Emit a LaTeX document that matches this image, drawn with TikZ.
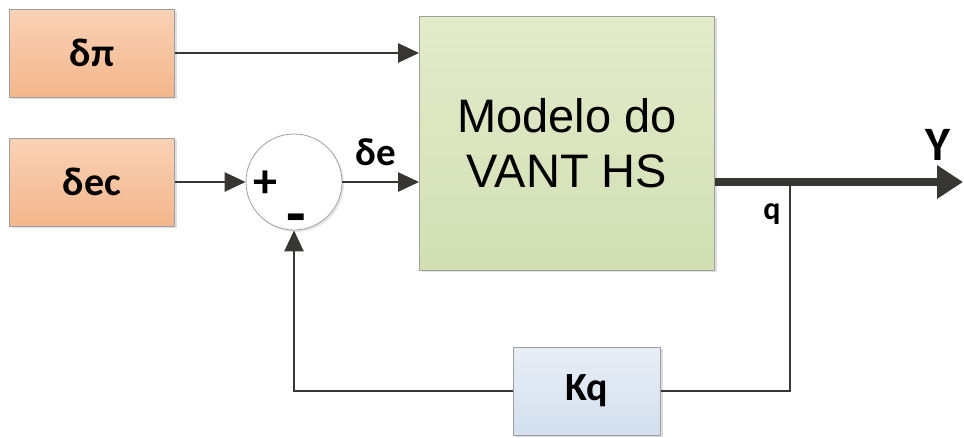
\documentclass[tikz,border=0pt]{standalone}
\usepackage{fontspec}
\setmainfont{Carlito}
\newfontfamily\arialfont{Liberation Sans}
\usetikzlibrary{arrows.meta,positioning,shadows}
\definecolor{linec}{HTML}{383634}
\definecolor{orangetop}{HTML}{F9D2B6}
\definecolor{orangebot}{HTML}{F3B68C}
\definecolor{greentop}{HTML}{E3EBCB}
\definecolor{greenbot}{HTML}{D2DFB3}
\definecolor{bluetop}{HTML}{E8EEF6}
\definecolor{bluebot}{HTML}{D3DFEE}

\begin{document}
\begin{tikzpicture}[x=1pt,y=-1pt,
  font=\bfseries,
  block/.style={draw=gray!75,line width=0.8pt,align=center,
    drop shadow={opacity=0.25,shadow xshift=2pt,shadow yshift=-2pt}},
  input/.style={block,top color=orangetop,bottom color=orangebot,minimum width=165pt,minimum height=88pt,font=\bfseries\fontsize{40}{42}\selectfont},
  arrow/.style={-{Triangle[length=21pt,width=19pt]},line width=2.4pt,draw=linec},
  line/.style={line width=2.4pt,draw=linec},
]
  \useasboundingbox (0,0) rectangle (964,437);

  \node[input] (dpi) at (92,53) {δπ};
  \node[input] (dec) at (92,182) {δec};
  \node[circle,draw=gray!75,line width=0.8pt,fill=white,minimum size=96pt,inner sep=0pt,
    drop shadow={opacity=0.2,shadow xshift=2pt,shadow yshift=-2pt}] (sum) at (294,182) {};
  \node[font=\bfseries\fontsize{48}{50}\selectfont] (plus) at (265,184) {+};
  \node[font=\bfseries\fontsize{64}{66}\selectfont] (minus) at (296,225) {-};
  \node[block,top color=greentop,bottom color=greenbot,minimum width=295pt,minimum height=254pt,
    font=\arialfont\fontsize{47}{55}\selectfont] (model) at (567,143) {Modelo do\\VANT HS};
  \node[block,top color=bluetop,bottom color=bluebot,minimum width=147pt,minimum height=88pt,
    font=\bfseries\fontsize{40}{42}\selectfont] (kq) at (587,391) {Kq};

  \coordinate (br) at (790,182);
  \coordinate (yend) at (963,182);

  \draw[arrow] (dpi) -- (dpi -| model.west);
  \draw[arrow] (dec) -- (sum);
  \draw[arrow] (sum) -- (sum -| model.west);
  \draw[line width=8pt,draw=linec,-{Triangle[length=26pt,width=32pt]}] (model.east |- br) -- (yend);
  \draw[line] (br) |- (kq.east);
  \draw[arrow] (kq.west) -| (sum.south);

  \node[font=\bfseries\fontsize{39}{41}\selectfont] (de) at (376,152) {δe};
  \node[font=\bfseries\fontsize{48}{50}\selectfont] (yout) at (938,145) {Y};
  \node[font=\bfseries\fontsize{32}{34}\selectfont] (q) at (772,214) {q};
\end{tikzpicture}
\end{document}
